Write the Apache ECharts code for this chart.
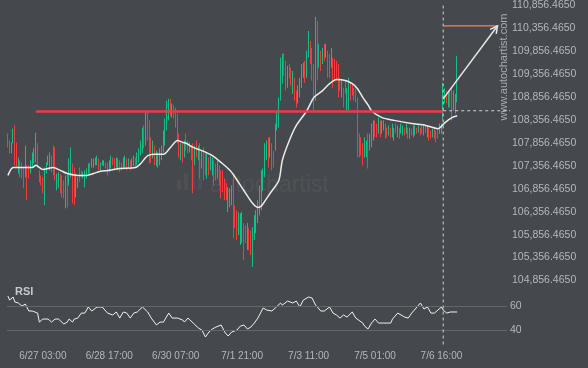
<!DOCTYPE html>
<html><head><meta charset="utf-8">
<script src="https://cdn.jsdelivr.net/npm/echarts/dist/echarts.min.js"></script>
<style>html,body{margin:0;padding:0;background:#45484c;overflow:hidden}#c{width:588px;height:368px}</style>
</head><body><div id="c"></div>
<script>
// ---------- data ----------
const startTimeUTC = Date.UTC(2025, 5, 26, 7);   // first hourly bar: 6/26 07:00
const missingHourAfter = 230;                     // one hourly bar absent from the feed
const slotCount = 286;                            // hourly slots on the axis (incl. empty projection area)
const xTickLabels = ['6/27 03:00','6/28 17:00','6/30 07:00','7/1 21:00','7/3 11:00','7/5 01:00','7/6 16:00'];

const priceMin = 104856.465, priceMax = 110856.465, priceStep = 500;
const rsiMin = 30, rsiMax = 75;
const rsiLevels = [60, 40];

// [open, close, low, high]
const candles = [
[107980,107850,107760,108060],[107850,107690,107630,107910],[107690,107800,107630,107870],[107930,108080,107850,108170],[108020,107580,107370,108240],[107740,107450,107320,107870],[107280,107450,107190,107540],[107390,107190,107110,107480],[107350,107170,107080,107430],[107220,106980,106870,107320],
[107280,107630,107110,107800],[107170,106800,106610,107370],[107300,107150,107080,107370],[107260,107410,107190,107480],[107410,107560,107320,107650],[107500,107650,107410,107740],[107610,107910,107430,108080],[107720,107450,107320,107850],[107190,107060,107000,107260],[107080,107000,106930,107150],
[107020,106850,106760,107110],[106720,107110,106500,107320],[107260,107370,107190,107430],[107430,107520,107370,107580],[107370,107540,107260,107650],[107500,107300,107220,107580],[107630,107320,107150,107800],[107580,107220,107040,107760],[106910,107110,106820,107190],[106950,107130,106870,107220],
[107080,106870,106760,107190],[107020,106800,106670,107150],[106930,106760,106650,107040],[106610,106980,106430,107150],[107000,106650,106450,107190],[107080,107370,106930,107520],[107280,107580,107110,107760],[107190,106760,106540,107410],[107110,106720,106500,107320],[106800,107060,106670,107190],
[106930,107040,106870,107110],[107240,107080,107000,107320],[107220,107150,107110,107260],[107130,107170,107080,107220],[106980,107170,106890,107260],[107150,107240,107080,107300],[107260,107350,107190,107410],[107370,107260,107190,107430],[107370,107480,107320,107520],[107390,107450,107320,107520],
[107410,107500,107370,107540],[107430,107540,107370,107580],[107450,107320,107260,107520],[107300,107390,107260,107430],[107390,107450,107370,107480],[107390,107450,107350,107480],[107410,107350,107300,107430],[107370,107220,107150,107430],[107280,107410,107220,107480],[107370,107520,107300,107580],
[107500,107410,107370,107540],[107450,107370,107300,107520],[107390,107480,107320,107540],[107320,107450,107260,107520],[107410,107280,107220,107480],[107390,107300,107260,107430],[107370,107480,107300,107540],[107390,107520,107320,107580],[107450,107320,107260,107520],[107370,107450,107300,107520],
[107410,107320,107260,107480],[107370,107450,107300,107520],[107410,107520,107350,107580],[107480,107390,107320,107540],[107430,107580,107370,107650],[107520,107650,107430,107740],[107670,107820,107580,107910],[107780,108040,107630,108190],[108110,107870,107740,108240],[107980,108350,107800,108520],
[108390,108080,107910,108560],[108110,107650,107410,108350],[107850,107560,107430,107980],[107630,107800,107520,107910],[107690,107480,107370,107800],[107430,107610,107350,107690],[107410,107560,107320,107650],[107450,107650,107370,107740],[107560,107720,107480,107800],[107780,108000,107650,108130],
[107950,108240,107800,108390],[108300,108610,108130,108780],[108480,108690,108350,108820],[108740,108540,108450,108820],[108500,108630,108410,108720],[108610,108480,108390,108690],[108520,108300,108190,108630],[108320,108020,107850,108500],[107930,107670,107540,108060],[107560,107760,107480,107850],
[107740,107540,107430,107850],[107630,107820,107540,107910],[107980,107780,107690,108060],[107850,107690,107630,107910],[107720,107800,107650,107870],[107720,107560,107480,107800],[107580,107020,106760,107850],[107480,107690,107370,107800],[107820,107630,107540,107910],[107560,107720,107480,107800],
[107650,107280,107080,107850],[107410,107580,107300,107690],[107580,107220,107040,107760],[107500,107280,107150,107630],[107220,107500,107080,107630],[107430,107260,107150,107540],[107350,107500,107260,107580],[107260,107430,107150,107540],[107350,107060,106930,107480],[107320,107130,107040,107410],
[107190,107370,107080,107480],[107260,107040,106930,107370],[107110,106800,106650,107260],[107130,106910,106780,107260],[106950,106740,106610,107080],[106890,106690,106610,106980],[106480,106760,106350,106890],[106560,106760,106450,106870],[106610,106820,106500,106930],[106800,106130,105780,107150],
[106370,106130,106000,106500],[106220,105910,105740,106390],[105980,106220,105850,106350],[105800,106150,105630,106320],[105850,106170,105670,106350],[105910,105500,105300,106110],[105950,105780,105670,106060],[105670,105950,105520,106110],[105870,105650,105520,106000],[105820,105540,105410,105950],
[105370,105800,105150,106020],[105870,106150,105740,106280],[106020,106260,105890,106390],[106240,106480,106110,106610],[106450,106760,106280,106930],[106610,107040,106390,107260],[106950,107170,106820,107300],[107280,107670,107110,107850],[107580,107800,107480,107910],[107800,107500,107320,107980],
[107650,107870,107540,107980],[107690,107410,107260,107850],[107610,107410,107320,107690],[107850,108130,107690,108280],[108240,108450,108130,108560],[108370,108670,108190,108850],[109020,109480,108780,109720],[109320,109630,109150,109800],[109690,109450,109320,109820],[109480,109170,109000,109650],
[109190,109410,109060,109540],[109500,109350,109260,109580],[109390,109220,109110,109500],[109060,109300,108930,109430],[109150,108910,108780,109280],[108910,108720,108630,109000],[108820,109000,108720,109110],[108950,109170,108850,109280],[109190,109450,109060,109580],[109370,109520,109280,109610],
[109520,109300,109170,109650],[109430,109720,109280,109870],[109870,110150,109720,110300],[109950,109720,109580,110080],[109760,109390,109220,109930],[109320,108820,108560,109580],[109240,110150,108780,110610],[110190,109540,109220,110520],[109630,109890,109500,110020],[109760,109540,109430,109870],
[109670,109850,109580,109930],[109930,109740,109650,110020],[109800,109930,109720,110020],[109720,109430,109280,109870],[109670,109410,109280,109800],[109610,109820,109500,109930],[109540,109240,109060,109720],[109560,109350,109220,109690],[109540,109320,109220,109650],[109390,109040,108850,109580],
[109220,109060,109000,109280],[108930,109130,108850,109220],[108950,108740,108630,109060],[109150,109000,108930,109220],[108690,108930,108560,109060],[108740,109110,108560,109280],[109060,108890,108780,109170],[109080,108950,108890,109150],[109000,108850,108780,109060],[108950,108820,108740,109040],
[108520,107870,107540,108850],[107930,107670,107540,108060],[107870,107690,107580,107980],[107720,107500,107370,107850],[107650,107870,107540,107980],[107630,107820,107540,107910],[107870,107500,107300,108060],[107780,107980,107690,108060],[107890,108150,107760,108280],[108020,108240,107910,108350],
[108260,108060,107980,108350],[108190,108060,107980,108280],[108150,108320,108060,108410],[108260,108060,107980,108350],[108130,108280,108060,108350],[108190,108280,108130,108350],[108190,108040,107950,108280],[108130,108040,107980,108190],[108080,108170,108020,108240],[108150,108040,107980,108190],
[108040,108190,107980,108280],[107980,108130,107910,108190],[108220,108130,108060,108280],[108040,108170,107980,108240],[108130,108020,107950,108190],[108110,108220,108060,108280],[108080,108170,108020,108240],[108150,108060,108020,108190],[108110,108220,108060,108280],[108130,108020,107950,108190],
[108020,108130,107950,108190],[108130,108060,108020,108170],[108040,108170,107980,108240],[108080,108190,108020,108240],[108150,108110,108060,108190],[108130,108190,108080,108240],[108150,108060,108020,108190],[108190,108110,108060,108240],[108080,108170,108020,108240],[108190,108130,108080,108240],
[108040,108170,107980,108240],[108130,107980,107910,108190],[108080,108000,107950,108130],[108020,108130,107980,108170],[108110,108000,107950,108170],[108060,107930,107870,108130],[108110,108000,107950,108170],[108110,108220,108060,108280],[108130,108240,108060,108280],[108560,108950,108350,109170],
[108800,108980,108720,109060],[108930,108780,108720,109000],[108720,108910,108630,109000],[108910,108720,108630,109000],[108890,108520,108350,109060],[108670,108890,108560,109000],[108610,108820,108500,108930],[109000,109500,108740,109760]
];

// moving average: [bar index, value]
const maPoints = [
[0,107150],[3,107320],[7,107320],[14,107320],[16,107370],[20,107280],[26,107320],[30,107260],[34,107190],[40,107150],
[45,107150],[49,107190],[53,107240],[58,107260],[64,107300],[73,107320],[76,107410],[80,107580],[84,107610],[89,107610],
[93,107760],[97,107910],[100,107870],[102,107850],[106,107760],[111,107690],[117,107580],[122,107430],[127,107260],[130,107110],
[135,106820],[140,106540],[143,106450],[145,106480],[150,106760],[155,107040],[157,107480],[161,107910],[165,108240],[171,108560],
[175,108850],[180,109000],[184,109150],[188,109240],[193,109220],[197,109150],[200,109040],[203,108850],[206,108690],[208,108560],
[214,108410],[221,108350],[231,108280],[239,108240],[246,108170],[248,108220],[250,108300],[254,108410],[257,108450]
];

// RSI: [bar index, value]
const rsiPoints = [
[0,68.2],[1,64.9],[3,67.4],[4,63.3],[6,62.5],[8,60.0],[10,61.6],[12,55.9],[14,55.9],[17,54.2],[18,46.8],[20,49.3],[23,49.3],[25,46.8],[27,49.3],[29,49.3],
[32,45.2],[34,46.8],[35,49.3],[37,46.8],[38,49.3],[40,50.1],[42,54.2],[44,54.2],[46,59.2],[48,55.9],[51,59.2],[54,59.2],[57,54.2],[58,55.1],[60,52.6],[62,55.1],
[64,50.1],[66,55.1],[68,54.2],[70,50.1],[72,54.2],[74,55.1],[77,59.2],[80,55.1],[82,50.1],[85,44.4],[87,46.8],[89,46.8],[92,54.2],[94,50.1],[97,50.1],[100,48.5],
[101,46.8],[103,50.1],[106,46.0],[109,41.9],[111,40.2],[113,34.5],[115,38.6],[117,41.1],[119,42.7],[120,41.9],[122,44.4],[124,38.6],[126,35.3],[128,38.6],[131,40.2],
[133,43.5],[135,44.4],[137,41.1],[139,42.7],[141,46.0],[143,50.1],[146,58.4],[148,56.7],[151,55.9],[153,58.4],[156,62.5],[157,60.8],[160,64.1],[161,64.9],[163,62.5],
[165,64.1],[167,59.2],[169,64.9],[172,67.4],[174,66.6],[176,60.8],[179,55.9],[181,55.9],[184,59.2],[186,54.2],[188,52.6],[190,50.1],[192,52.6],[194,50.9],[197,55.1],
[199,50.1],[200,49.3],[203,46.0],[204,43.5],[206,41.1],[208,46.0],[210,49.3],[212,46.0],[215,46.0],[219,46.0],[220,49.3],[223,54.2],[224,55.1],[227,50.9],[229,50.1],
[231,54.2],[234,59.2],[236,62.5],[238,57.5],[240,59.2],[242,54.2],[244,54.2],[246,56.7],[248,59.2],[249,56.7],[251,54.2],[253,55.1],[257,55.1]
];

// pattern annotations
const levelValue = 108560;        // breakout level (red line / dashed)
const levelStartIdx = 16;
const signalIdx = 249;            // signal bar (vertical dashed line)
const arrowFrom = [249, 108820];
const arrowTo = [280, 110410];
const targetValue = 110410;       // forecast target (orange line)
const dashBottomRsi = 26;         // dashed marker reaches a little below the RSI pane

// ---------- chart ----------
const categories = [];
for (let i = 0; i < slotCount; i++) {
  const d = new Date(startTimeUTC + (i + (i > missingHourAfter ? 1 : 0)) * 3600000);
  categories.push((d.getUTCMonth() + 1) + '/' + d.getUTCDate() + ' ' + String(d.getUTCHours()).padStart(2, '0') + ':00');
}
const labelColor = '#b4b7bb';
const font = "'Liberation Sans', Arial, sans-serif";
const fmtPrice = v => {
  const k = Math.round((v - priceMin) / priceStep);
  const t = priceMin + k * priceStep;
  return t.toLocaleString('en-US', {minimumFractionDigits: 4, maximumFractionDigits: 4});
};

const chart = echarts.init(document.getElementById('c'), null, {renderer: 'canvas'});
chart.setOption({
  backgroundColor: '#45484c',
  animation: false,
  grid: [
    {left: 7, top: 4.5, width: 500, height: 276},
    {left: 7, top: 287.8, width: 500, height: 54.7}
  ],
  xAxis: [
    {type: 'category', gridIndex: 0, data: categories, boundaryGap: true, show: false},
    {type: 'category', gridIndex: 1, data: categories, boundaryGap: true,
     axisLine: {show: false}, axisTick: {show: false}, splitLine: {show: false},
     axisLabel: {color: labelColor, fontSize: 10, fontFamily: font, margin: 9,
                 interval: (i, v) => xTickLabels.includes(v)}}
  ],
  yAxis: [
    {type: 'value', gridIndex: 0, position: 'right', min: priceMin, max: priceMax, interval: priceStep,
     axisLine: {show: false}, axisTick: {show: false}, splitLine: {show: false},
     axisLabel: {color: labelColor, fontSize: 10.5, fontFamily: font, margin: 5, formatter: fmtPrice,
                 showMinLabel: true, showMaxLabel: true}},
    {type: 'value', gridIndex: 1, min: rsiMin, max: rsiMax, show: false}
  ],
  series: [
    {type: 'candlestick', xAxisIndex: 0, yAxisIndex: 0, data: candles, barWidth: 1,
     itemStyle: {color: '#17bf88', color0: '#f23c3e', borderColor: '#17bf88', borderColor0: '#f23c3e', borderWidth: 1},
     markLine: {silent: true, symbol: ['none', 'none'], label: {show: false},
       lineStyle: {color: '#f23a40', width: 2.5, type: 'solid'},
       data: [[{coord: [levelStartIdx, levelValue]}, {coord: [signalIdx, levelValue]}]]}
    },
    {type: 'line', xAxisIndex: 0, yAxisIndex: 0, data: maPoints, showSymbol: false, smooth: 0.25,
     lineStyle: {color: '#ececec', width: 1.5}, z: 4},
    {type: 'line', xAxisIndex: 1, yAxisIndex: 1, data: rsiPoints, showSymbol: false,
     lineStyle: {color: '#f2f2f2', width: 1}, z: 4,
     markLine: {silent: true, symbol: ['none', 'none'],
       lineStyle: {color: '#62666a', width: 1, type: 'solid'},
       label: {show: true, position: 'end', distance: 3, color: labelColor, fontSize: 10.5, fontFamily: font, formatter: '{c}'},
       data: rsiLevels.map(v => ({yAxis: v}))}
    }
  ]
});

// annotations positioned through the chart's own scales
const px = (xi, v) => chart.convertToPixel({xAxisIndex: 0, yAxisIndex: 0}, [xi, v]);
const xSig = px(signalIdx, levelValue)[0];
const yTop = px(signalIdx, priceMax)[1];
const yBot = chart.convertToPixel({xAxisIndex: 1, yAxisIndex: 1}, [signalIdx, dashBottomRsi])[1];
const yLevel = px(signalIdx, levelValue)[1];
const xRight = px(slotCount - 1, levelValue)[0] + 4;
const pA = px(arrowFrom[0], arrowFrom[1]);
const pB = px(arrowTo[0], arrowTo[1]);
const yTarget = px(arrowTo[0], targetValue)[1];
const ang = Math.atan2(pB[1] - pA[1], pB[0] - pA[0]);
const hl = 8, hs = 0.5;
const head = [
  [pB[0] - hl * Math.cos(ang - hs), pB[1] - hl * Math.sin(ang - hs)],
  [pB[0], pB[1]],
  [pB[0] - hl * Math.cos(ang + hs), pB[1] - hl * Math.sin(ang + hs)]
];
const wmFill = 'rgba(255,255,255,0.045)';
chart.setOption({
  graphic: [
    // watermark
    {type: 'group', z: 0, silent: true, children: [
      {type: 'rect', shape: {x: 177, y: 180, width: 4, height: 10}, style: {fill: wmFill}},
      {type: 'rect', shape: {x: 184, y: 173, width: 4, height: 17}, style: {fill: wmFill}},
      {type: 'rect', shape: {x: 191, y: 166, width: 4, height: 24}, style: {fill: wmFill}},
      {type: 'rect', shape: {x: 198, y: 160, width: 4, height: 30}, style: {fill: wmFill}},
      {type: 'text', x: 210, y: 174, style: {text: 'autochartist', fill: 'rgba(255,255,255,0.055)', font: '23px ' + font}}
    ]},
    {type: 'text', x: 504, y: 67, rotation: Math.PI / 2, silent: true, z: 5,
     style: {text: 'www.autochartist.com', fill: '#a9acb0', font: '11px ' + font, align: 'center', verticalAlign: 'middle'}},
    {type: 'text', x: 15, y: 286, silent: true, z: 5,
     style: {text: 'RSI', fill: '#c6c8cb', font: 'bold 11px ' + font}},
    // signal markers
    {type: 'line', z: 10, silent: true, shape: {x1: xSig, y1: yTop, x2: xSig, y2: yBot},
     style: {stroke: '#cfd1d4', lineWidth: 1, lineDash: [3, 3]}},
    {type: 'line', z: 10, silent: true, shape: {x1: xSig, y1: yLevel, x2: xRight, y2: yLevel},
     style: {stroke: '#cfd1d4', lineWidth: 1, lineDash: [3, 3]}},
    {type: 'line', z: 10, silent: true, shape: {x1: xSig, y1: yTarget, x2: pB[0] + 1, y2: yTarget},
     style: {stroke: '#e8885f', lineWidth: 1.3}},
    {type: 'line', z: 11, silent: true, shape: {x1: pA[0], y1: pA[1], x2: pB[0], y2: pB[1]},
     style: {stroke: '#e6e6e6', lineWidth: 1.5}},
    {type: 'polyline', z: 11, silent: true, shape: {points: head},
     style: {stroke: '#e6e6e6', lineWidth: 1.5, fill: null}}
  ]
});
</script>
</body></html>
